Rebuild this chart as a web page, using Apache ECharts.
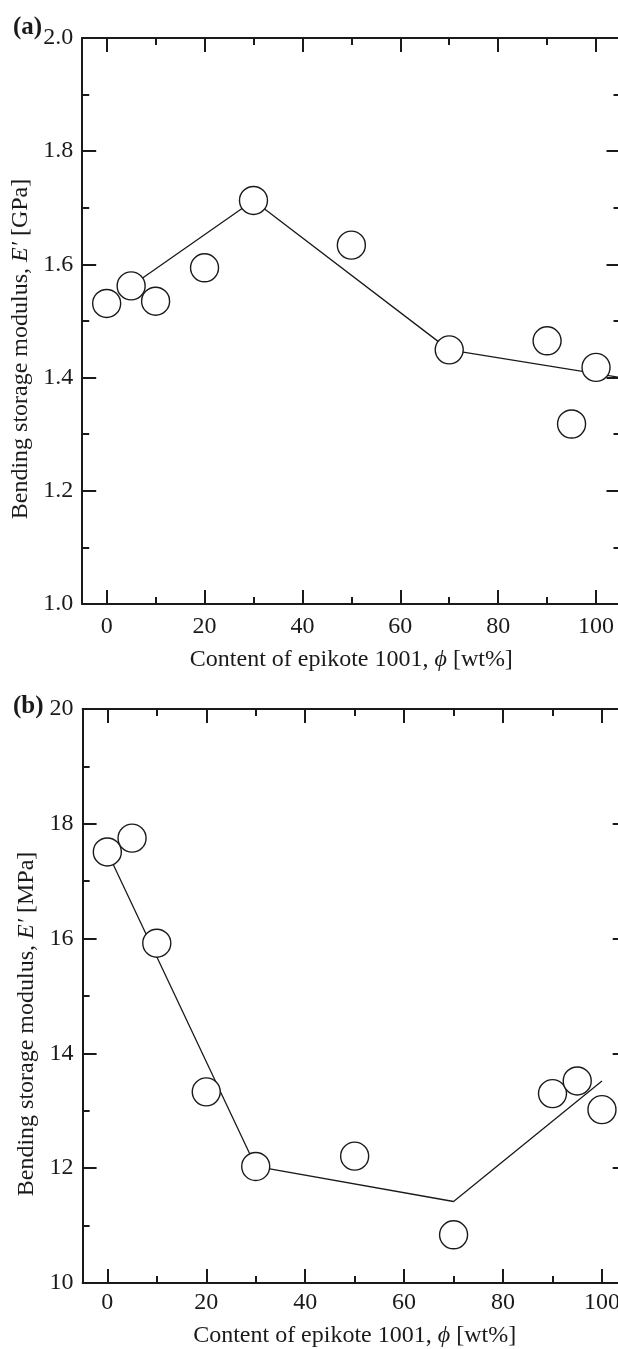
<!DOCTYPE html>
<html>
<head>
<meta charset="utf-8">
<script src="https://cdn.jsdelivr.net/npm/echarts@6/dist/echarts.min.js"></script>
<style>
  html, body { margin: 0; padding: 0; background: #fff; }
  #chart { width: 618px; height: 1349px; }
</style>
</head>
<body>
<div id="chart"></div>
<script>
// tick positions on the x axis (epikote content, wt%)
const xTicks = [0, 20, 40, 60, 80, 100];
const xMinorTicks = [10, 30, 50, 70, 90];

// (a) bending storage modulus at room temperature, GPa
const phiA = [0, 5, 10, 20, 30, 50, 70, 90, 95, 100];
const modulusA = [1.531, 1.562, 1.535, 1.594, 1.713, 1.634, 1.449, 1.465, 1.318, 1.418];
const guideXA = [5, 30, 70, 105];
const guideYA = [1.562, 1.713, 1.449, 1.40];

// (b) bending storage modulus above Tg, MPa
const phiB = [0, 5, 10, 20, 30, 50, 70, 90, 95, 100];
const modulusB = [17.51, 17.75, 15.92, 13.33, 12.03, 12.21, 10.84, 13.30, 13.52, 13.02];
const guideXB = [0, 30, 70, 100];
const guideYB = [17.51, 12.03, 11.42, 13.52];

const FONT = 'Liberation Serif';
const INK = '#1a1a1a';

const chart = echarts.init(document.getElementById('chart'), null, { renderer: 'canvas' });

function pairs(xs, ys) {
  return xs.map((x, i) => [x, ys[i]]);
}

function xAxes(grid, labelMargin, nameGap) {
  const base = {
    gridIndex: grid,
    type: 'value',
    min: -5,
    max: 105,
    splitLine: { show: false },
    axisLine: { show: true, onZero: false, lineStyle: { color: INK, width: 2 } }
  };
  return [
    Object.assign({}, base, {
      position: 'bottom',
      name: 'Content of epikote 1001, {i|ϕ} [wt%]',
      nameLocation: 'middle',
      nameGap: nameGap,
      nameTextStyle: {
        fontFamily: FONT, fontSize: 24, color: INK,
        rich: { i: { fontFamily: FONT, fontSize: 24, fontStyle: 'italic', color: INK } }
      },
      axisTick: { show: true, inside: true, length: 14, customValues: xTicks, lineStyle: { color: INK, width: 2 } },
      axisLabel: { show: true, margin: labelMargin, customValues: xTicks, fontFamily: FONT, fontSize: 24, color: INK }
    }),
    Object.assign({}, base, {
      position: 'bottom',
      axisLine: { show: false },
      axisTick: { show: true, inside: true, length: 7, customValues: xMinorTicks, lineStyle: { color: INK, width: 2 } },
      axisLabel: { show: false }
    }),
    Object.assign({}, base, {
      position: 'top',
      axisTick: { show: true, inside: true, length: 14, customValues: xTicks, lineStyle: { color: INK, width: 2 } },
      axisLabel: { show: false }
    }),
    Object.assign({}, base, {
      position: 'top',
      axisLine: { show: false },
      axisTick: { show: true, inside: true, length: 7, customValues: xMinorTicks, lineStyle: { color: INK, width: 2 } },
      axisLabel: { show: false }
    })
  ];
}

function yAxes(grid, min, max, interval, unit, digits) {
  const base = {
    gridIndex: grid,
    type: 'value',
    min: min,
    max: max,
    interval: interval,
    splitLine: { show: false },
    axisLine: { show: true, onZero: false, lineStyle: { color: INK, width: 2 } },
    axisTick: { show: true, inside: true, length: 14, lineStyle: { color: INK, width: 2 } },
    minorTick: { show: true, splitNumber: 2, length: 7, lineStyle: { color: INK, width: 2 } }
  };
  return [
    Object.assign({}, base, {
      position: 'left',
      name: 'Bending storage modulus, {i|E′} [' + unit + ']',
      nameLocation: 'middle',
      nameGap: 44,
      nameTextStyle: {
        fontFamily: FONT, fontSize: 24, color: INK,
        padding: [0, 56, 0, 0],
        rich: { i: { fontFamily: FONT, fontSize: 24, fontStyle: 'italic', color: INK } }
      },
      axisLabel: {
        show: true, margin: 9, fontFamily: FONT, fontSize: 24, color: INK,
        formatter: v => v.toFixed(digits)
      }
    }),
    Object.assign({}, base, {
      position: 'right',
      axisLabel: { show: false }
    })
  ];
}

const circleStyle = { color: '#fff', borderColor: INK, borderWidth: 1.4, opacity: 1 };

chart.setOption({
  animation: false,
  backgroundColor: '#fff',
  title: [
    { text: '(a)', left: 13, top: 15, padding: 0, textStyle: { fontFamily: FONT, fontSize: 25, fontWeight: 'bold', color: INK } },
    { text: '(b)', left: 13, top: 694, padding: 0, textStyle: { fontFamily: FONT, fontSize: 25, fontWeight: 'bold', color: INK } }
  ],
  grid: [
    { left: 82.2, top: 38, height: 566, width: 538.3, outerBoundsMode: 'none', containLabel: false },
    { left: 82.6, top: 709, height: 574, width: 544.1, outerBoundsMode: 'none', containLabel: false }
  ],
  xAxis: xAxes(0, 11, 44).concat(xAxes(1, 8, 41)),
  yAxis: yAxes(0, 1.0, 2.0, 0.2, 'GPa', 1).concat(yAxes(1, 10, 20, 2, 'MPa', 0)),
  series: [
    {
      type: 'line', xAxisIndex: 0, yAxisIndex: 0, symbol: 'none', z: 2,
      lineStyle: { color: INK, width: 1.3 },
      data: pairs(guideXA, guideYA)
    },
    {
      type: 'scatter', xAxisIndex: 0, yAxisIndex: 0, symbol: 'circle', symbolSize: 28, z: 3,
      itemStyle: circleStyle,
      data: pairs(phiA, modulusA)
    },
    {
      type: 'line', xAxisIndex: 4, yAxisIndex: 2, symbol: 'none', z: 2,
      lineStyle: { color: INK, width: 1.3 },
      data: pairs(guideXB, guideYB)
    },
    {
      type: 'scatter', xAxisIndex: 4, yAxisIndex: 2, symbol: 'circle', symbolSize: 28, z: 3,
      itemStyle: circleStyle,
      data: pairs(phiB, modulusB)
    }
  ]
});

window.addEventListener('resize', () => chart.resize());
</script>
</body>
</html>
